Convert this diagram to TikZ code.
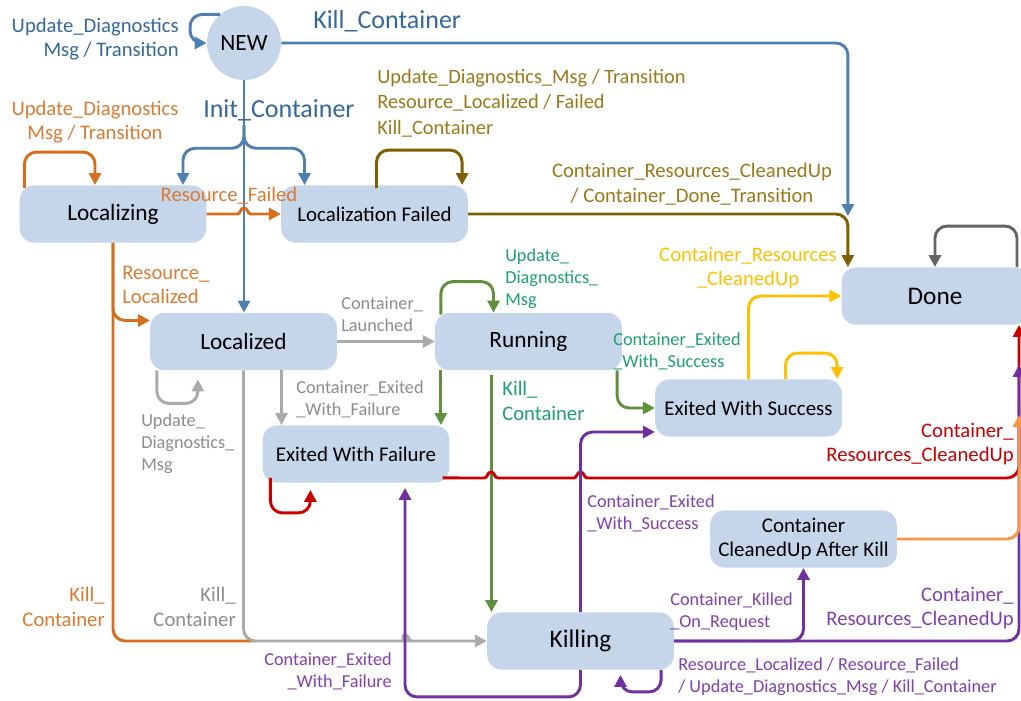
\documentclass[tikz,border=0pt]{standalone}
\usepackage{fontspec}
\setmainfont{Carlito}
\usetikzlibrary{arrows.meta,calc}
\definecolor{nodefill}{RGB}{197,213,234}
\definecolor{cb}{RGB}{79,127,176}
\definecolor{cbt}{RGB}{52,104,155}
\definecolor{co}{RGB}{214,110,30}
\definecolor{cot}{RGB}{220,122,50}
\definecolor{cg}{RGB}{127,96,0}
\definecolor{cgt}{RGB}{155,120,25}
\definecolor{cgr}{RGB}{170,170,170}
\definecolor{cgrt}{RGB}{140,140,140}
\definecolor{cgn}{RGB}{95,145,60}
\definecolor{cgnt}{RGB}{30,160,110}
\definecolor{cy}{RGB}{255,192,0}
\definecolor{cr}{RGB}{200,0,0}
\definecolor{cp}{RGB}{112,48,160}
\definecolor{cpt}{RGB}{128,64,176}
\definecolor{clo}{RGB}{247,150,70}
\definecolor{cdg}{RGB}{100,100,100}
\begin{document}
\begin{tikzpicture}[x=0.75pt,y=-0.75pt,
  st/.style={fill=nodefill, rounded corners=11pt, minimum width=140pt, minimum height=43pt,
    font=\fontsize{15.7}{18}\selectfont, inner sep=2pt, align=center},
  stbig/.style={st, font=\fontsize{17.5}{21}\selectfont},
  sthuge/.style={st, font=\fontsize{19}{23}\selectfont},
  ln/.style={line width=2.2pt, rounded corners=9pt, -{Triangle[length=9pt,width=9pt]}},
  lab/.style={inner sep=0pt, font=\fontsize{15.5}{18.5}\selectfont},
  labs/.style={inner sep=0pt, font=\fontsize{13.7}{16.5}\selectfont},
  labb/.style={inner sep=0pt, font=\fontsize{19.5}{23}\selectfont}]
\useasboundingbox (0,0) rectangle (1021,700);

% nodes
\node[fill=nodefill, circle, minimum size=55.5pt, inner sep=0pt, font=\fontsize{17.5}{21}\selectfont] (new) at (244,43) {NEW};
\node[stbig] (lzg) at (113,214) {Localizing};
\node[st] (lf) at (374.5,214) {Localization Failed};
\node[stbig] (lzd) at (243.5,341.5) {Localized};
\node[stbig] (run) at (528.5,341.5) {Running};
\node[st] (ewf) at (356,454) {Exited With Failure};
\node[st] (ews) at (748.5,408) {Exited With Success};
\node[sthuge] (done) at (935,296) {Done};
\node[st] (cuk) at (803.5,539) {Container\\CleanedUp After Kill};
\node[sthuge] (kil) at (580.5,641) {Killing};

% blue
\draw[ln,cb] (new.130) -- ++(-30,0) |- (new.west);
\draw[ln,cb] (new.east) -| ($(done.north west)+(6.5,-51)$);
\draw[ln,cb] (new.south) -- (new.south |- lzd.north);
\draw[ln,cb] ($(new.south)+(0,45)$) -- ($(new.south)+(0,68)$) -| ($(lzg.north)+(70,0)$);
\draw[ln,cb] ($(new.south)+(0,45)$) -- ($(new.south)+(0,68)$) -| ($(lf.north)+(-70,0)$);

% orange
\draw[ln,co] ($(lzg.north west)+(5,3)$) -- ++(0,-36) -| ($(lzg.north)+(-18,0)$);
\draw[ln,co,sharp corners] (lzg.east) -- (237,214) .. controls (241,214) and (240,208) .. (244,208)
   .. controls (248,208) and (247,214) .. (251,214) -- (lf.west);
\draw[ln,co] (lzg.south) |- ($(lzd.west)+(0,-21)$);
\draw[ln,co,-] (lzg.south) |- ($(kil.west)+(-232,0)$);

% gold
\draw[ln,cg] ($(lf.north)+(2,3)$) -- ++(0,-38) -| ($(lf.north east)+(-6,0)$);
\draw[ln,cg] (lf.east) -| ($(done.north west)+(6.5,0)$);

% dark grey
\draw[ln,cdg] ($(done.north)+(82,0)$) -- ++(0,-41) -| (done.north);

% grey
\draw[ln,cgr] ($(lzd.south west)+(7,0)$) -- ++(0,33) -| ($(lzd.south west)+(48,9)$);
\draw[ln,cgr] (lzd.east) -- (run.west);
\coordinate (a1) at ($(lzd.south)+(38,0)$);
\draw[ln,cgr] (a1) -- (a1 |- ewf.north);
\draw[ln,cgr] (lzd.south) |- (398,641) [sharp corners] .. controls (402,641) and (401,635) .. (405,635)
   .. controls (409,635) and (408,641) .. (412,641) -- (kil.west);

% green
\draw[ln,cgn] ($(run.north west)+(6,2)$) -- ++(0,-33) -| ($(run.north)+(-35,0)$);
\coordinate (g1) at ($(run.south west)+(6,0)$);
\draw[ln,cgn] (g1) -- (g1 |- ewf.north);
\coordinate (g2) at ($(run.south)+(-37,5)$);
\draw[ln,cgn] (g2) -- (g2 |- kil.north);
\draw[ln,cgn] ($(run.south east)+(-5,0)$) |- (ews.west);

% yellow
\draw[ln,cy] (ews.north) |- (done.west);
\draw[ln,cy] ($(ews.north)+(37,0)$) -- ++(0,-26) -| ($(ews.north east)+(-5,0)$);

% red
\draw[ln,cr,sharp corners] ($(ewf.south east)+(-7,-5)$) -- (484,478) .. controls (488,478) and (487,472) .. (491,472)
   .. controls (495,472) and (494,478) .. (498,478) -- (573.5,478)
   .. controls (577.5,478) and (576.5,472) .. (580.5,472)
   .. controls (584.5,472) and (583.5,478) .. (587.5,478) [rounded corners=9pt] -| ($(done.south)+(84,0)$);
\draw[ln,cr] ($(ewf.south west)+(8,-5)$) -- ++(0,35) -| ($(ewf.south west)+(48,7)$);

% purple
\draw[ln,cp] (kil.south) -- ++(0,27) -| ($(ewf.south)+(49,5)$);
\draw[ln,cp] (kil.north) |- ($(ews.west)+(0,24)$);
\draw[ln,cp] (kil.east) -| (cuk.south);
\draw[ln,cp] (kil.east) -| ($(done.south)+(84,40)$);
\draw[ln,cp] ($(kil.south east)+(-13,0)$) -- ++(0,22) -| ($(kil.south)+(40,5)$);

% light orange
\draw[ln,clo] (cuk.east) -| ($(done.south)+(84,90)$);

% labels
\node[lab,cbt,align=right,anchor=east] (l1) at (179,39) {Update\_Diagnostics\\Msg / Transition};
\node[labb,cbt,anchor=west] (l2) at (313,21) {Kill\_Container};
\node[labb,cbt,anchor=west] (l3) at (203,110) {Init\_Container};
\node[lab,cot,align=center] (l4) at (95,122) {Update\_Diagnostics\\Msg / Transition};
\node[lab,cot] (l5) at (229,196) {Resource\_Failed};
\node[lab,cot,align=left,anchor=west] (l6) at (122,285) {Resource\_\\Localized};
\node[lab,cot,align=right,anchor=east] (l7) at (105,607) {Kill\_\\Container};
\node[lab,cgt,align=left,anchor=west,font=\fontsize{15.3}{19}\selectfont] (l8) at (377,103) {Update\_Diagnostics\_Msg / Transition\\Resource\_Localized / Failed\\Kill\_Container};
\node[lab,cgt,align=center] (l9) at (692,184) {Container\_Resources\_CleanedUp\\/ Container\_Done\_Transition};
\node[labs,cgrt,align=left,anchor=west] (l10) at (341,314) {Container\_\\Launched};
\node[labs,cgrt,align=left,anchor=west] (l11) at (296,399) {Container\_Exited\\\_With\_Failure};
\node[labs,cgrt,align=left,anchor=west] (l12) at (141,444) {Update\_\\Diagnostics\_\\Msg};
\node[lab,cgrt,align=right,anchor=east] (l13) at (236,607) {Kill\_\\Container};
\node[labs,cgnt,align=left,anchor=west] (l14) at (505,279) {Update\_\\Diagnostics\_\\Msg};
\node[lab,cgnt,align=left,anchor=west] (l15) at (502,401) {Kill\_\\Container};
\node[labs,cgnt,align=left,anchor=west] (l16) at (613,351) {Container\_Exited\\\_With\_Success};
\node[lab,cy,align=center] (l17) at (748,268) {Container\_Resources\\\_CleanedUp};
\node[lab,cr,align=right,anchor=east] (l18) at (1014,444) {Container\_\\Resources\_CleanedUp};
\node[labs,cpt,align=right,anchor=east] (l19) at (392,671) {Container\_Exited\\\_With\_Failure};
\node[labs,cpt,align=left,anchor=west] (l20) at (587,513) {Container\_Exited\\\_With\_Success};
\node[labs,cpt,align=left,anchor=west] (l21) at (670,612) {Container\_Killed\\\_On\_Request};
\node[lab,cpt,align=right,anchor=east] (l22) at (1014,608) {Container\_\\Resources\_CleanedUp};
\node[labs,cpt,align=left,anchor=west] (l23) at (678,677) {Resource\_Localized / Resource\_Failed\\/ Update\_Diagnostics\_Msg / Kill\_Container};
\end{tikzpicture}
\end{document}
